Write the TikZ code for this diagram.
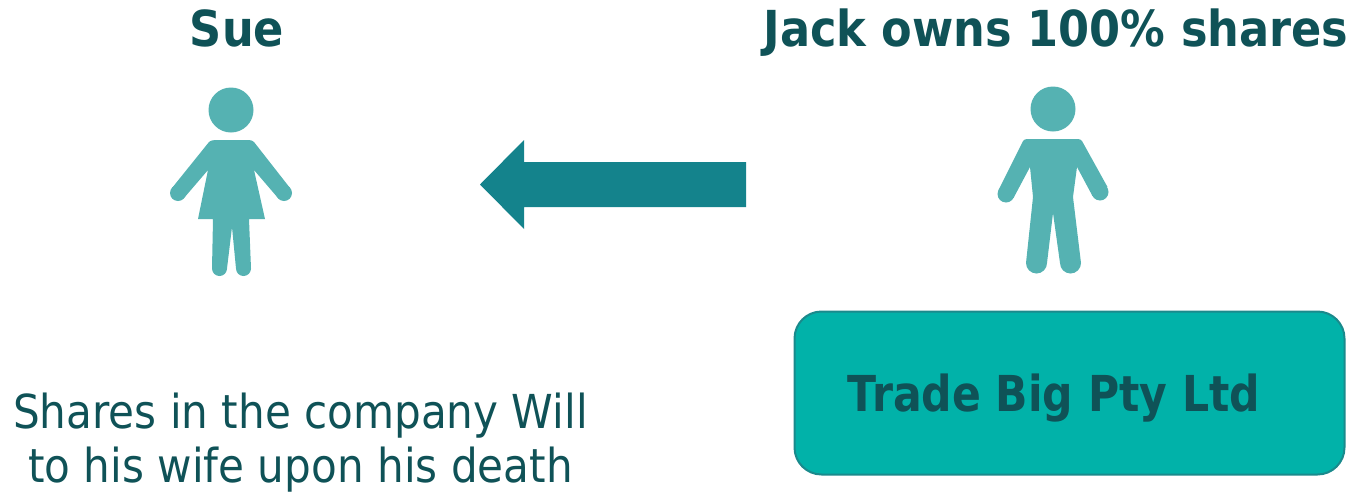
\documentclass[tikz,border=0pt]{standalone}
\usepackage{fontspec}
\setmainfont{DejaVu Sans}
\newfontfamily\cond[FakeStretch=0.9]{DejaVu Sans}
\newfontfamily\condb[FakeStretch=0.86]{DejaVu Sans}
\newfontfamily\condc[FakeStretch=0.9]{DejaVu Sans}
\definecolor{figc}{HTML}{55B2B2}
\definecolor{arrowc}{HTML}{14838C}
\definecolor{boxc}{HTML}{01B2A9}
\definecolor{boxedge}{HTML}{1A8A8C}
\definecolor{textc}{HTML}{0F5257}
\tikzset{
  head/.style={fill=figc,draw=none,circle,minimum size=45pt,inner sep=0pt},
  title/.style={text=textc,font=\cond\bfseries\fontsize{49.6}{50}\selectfont,inner sep=0pt,anchor=base},
  boxtitle/.style={text=textc,font=\condb\bfseries\fontsize{49.5}{50}\selectfont,inner sep=0pt,anchor=base},
  bodytext/.style={text=textc,font=\condc\fontsize{46.8}{47}\selectfont,inner sep=0pt,anchor=base},
  company/.style={draw=boxedge,fill=boxc,line width=2pt,rounded corners=27pt,minimum width=550pt,minimum height=163pt,inner sep=0pt}
}
\begin{document}
\begin{tikzpicture}[x=1pt,y=-1pt]
\useasboundingbox (0,0) rectangle (1349,493);
% Sue
\node[title] (suet) at (237,46) {Sue};
\node[head] (suehead) at (231,110) {};
\fill[figc] (215,140) -- (249,140) .. controls (251,140) and (253,141) .. (254,142)
  -- (290,188) -- (278,198) -- (254,170) -- (265,219) -- (249,219) -- (251,268.5)
  arc (0:180:7.5 and 7.5) -- (232,227) -- (227,268.5) arc (0:180:7.5 and 7.5) -- (213,219)
  -- (198,219) -- (208,170) -- (184,198) -- (172,188) -- (209,142)
  .. controls (210,141) and (212,140) .. (215,140) -- cycle;
\fill[figc] (178,193) circle[radius=8] (284,193) circle[radius=8];
% Jack
\node[title] (jackt) at (1056,46) {Jack owns 100\% shares};
\node[head] (jackhead) at (1053,109) {};
\fill[figc] (1027,139) -- (1078,139) .. controls (1080,139) and (1081,140) .. (1082,141)
  -- (1107.5,187) -- (1092.5,196) -- (1077,167) -- (1073,197) -- (1081,263)
  arc (0:180:10.5 and 10.5) -- (1053,213) -- (1047,263) arc (0:180:10.5 and 10.5)
  -- (1033,197) -- (1030,167) -- (1013.5,198) -- (998.5,190) -- (1023,141)
  .. controls (1024,140) and (1025,139) .. (1027,139) -- cycle;
\fill[figc] (1006,194) circle[radius=8.5] (1100,192) circle[radius=8.5];
% arrow
\fill[arrowc] (746,162) -- (524,162) -- (524,140) -- (480,184.5) -- (524,229) -- (524,207) -- (746,207) -- cycle;
% box
\node[company] (co) at (1069.5,393) {};
\node[boxtitle] (cot) at (1054,411) {Trade Big Pty Ltd};
% caption
\node[bodytext] (cap1) at (300.5,428) {Shares in the company Will};
\node[bodytext] (cap2) at (300.5,482) {to his wife upon his death};
\end{tikzpicture}
\end{document}
